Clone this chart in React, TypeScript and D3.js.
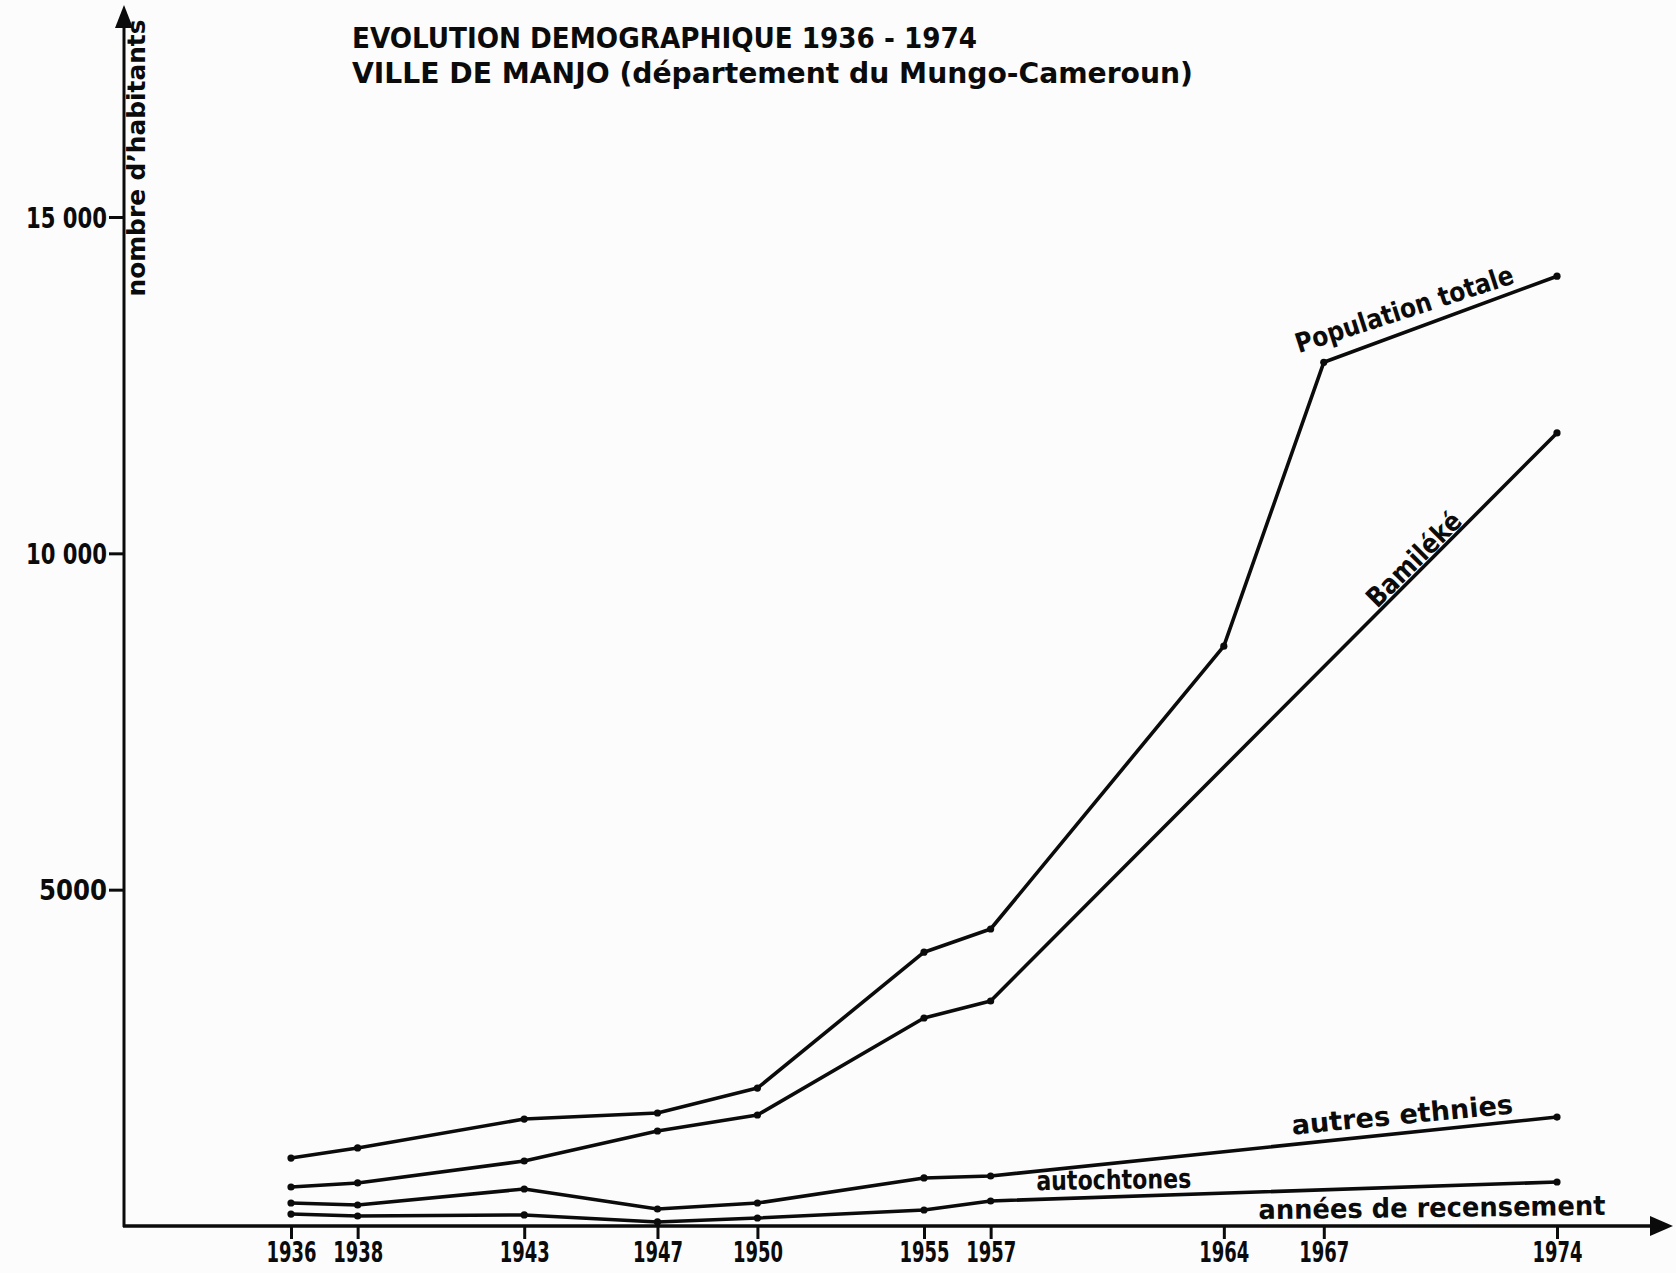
import * as d3 from 'd3';
import { useEffect, useRef } from 'react';

// census years on the x axis
const years = [1936, 1938, 1943, 1947, 1950, 1955, 1957, 1964, 1967, 1974];
const yearLabels = ['1936', '1938', '1943', '1947', '1950', '1955', '1957', '1964', '1967', '1974'];

// inhabitants per census (null = no point drawn)
const populationTotale = [1010, 1160, 1590, 1680, 2050, 4070, 4415, 8620, 12840, 14120];
const bamileke = [580, 640, 966, 1412, 1650, 3092, 3345, null, null, 11790];
const autresEthnies = [342, 312, 550, 253, 342, 714, 743, null, null, 1620];
const autochtones = [178, 149, 164, 60, 119, 238, 372, null, null, 654];

const yTickValues = [5000, 10000, 15000];
const yTickLabels = ['5000', '10 000', '15 000'];

// series label anchors, in data units
const seriesLabels = [
  { text: 'Population totale', year: 1969.5, value: 13498, angle: -18, len: 228 },
  { text: 'Bamiléké', year: 1969.9, value: 9812, angle: -45, len: 122 },
  { text: 'autres ethnies', year: 1969.38, value: 1516, angle: -5.5, len: 222 },
  { text: 'autochtones', year: 1960.7, value: 550, angle: -1, len: 155 },
  { text: 'années de recensement', year: 1970.25, value: 134, angle: -0.7, len: 347 },
];

const App = () => {
  const svgRef = useRef<any>();
  const width = 1676;
  const height = 1273;
  const axisX = 124;
  const ink = '#0b0b0b';

  useEffect(() => {
    const svg = d3.select(svgRef.current);
    svg.selectAll('*').remove();

    svg.append('rect').attr('width', width).attr('height', height).attr('fill', '#fcfcfc');

    const x = d3.scaleLinear().domain([1936, 1974]).range([291, 1557]);
    const y = d3.scaleLinear().domain([0, 15000]).range([1226, 217]);
    const y0 = y(0);

    // axes lines + arrows
    svg.append('line')
      .attr('x1', axisX).attr('x2', axisX).attr('y1', y0 + 1).attr('y2', 20)
      .attr('stroke', ink).attr('stroke-width', 3);
    svg.append('path')
      .attr('d', `M${axisX},5 L${axisX - 9},28 L${axisX + 9},28 Z`)
      .attr('fill', ink);
    svg.append('line')
      .attr('x1', axisX - 1).attr('x2', 1660).attr('y1', y0).attr('y2', y0)
      .attr('stroke', ink).attr('stroke-width', 3.5);
    svg.append('path')
      .attr('d', `M1673,${y0} L1650,${y0 - 10} L1650,${y0 + 10} Z`)
      .attr('fill', ink);

    // y ticks
    const yAxis = d3.axisLeft(y)
      .tickValues(yTickValues)
      .tickSize(15)
      .tickPadding(2)
      .tickFormat((d, i) => yTickLabels[i]);
    const gy = svg.append('g').attr('transform', `translate(${axisX},0)`).call(yAxis);
    gy.select('.domain').remove();
    gy.selectAll('line').attr('stroke', ink).attr('stroke-width', 3);
    gy.selectAll('text')
      .attr('fill', ink)
      .attr('font-family', '"DejaVu Sans Condensed", "DejaVu Sans", sans-serif')
      .attr('font-weight', 'bold')
      .attr('font-size', 28)
      .attr('dy', '0.36em')
      .attr('textLength', (d: any, i) => (yTickLabels[i].length === 4 ? 68 : 81))
      .attr('lengthAdjust', 'spacingAndGlyphs');

    // x ticks
    const xAxis = d3.axisBottom(x)
      .tickValues(years)
      .tickSize(13)
      .tickPadding(2)
      .tickFormat((d, i) => yearLabels[i]);
    const gx = svg.append('g').attr('transform', `translate(0,${y0})`).call(xAxis);
    gx.select('.domain').remove();
    gx.selectAll('line').attr('stroke', ink).attr('stroke-width', 3);
    gx.selectAll('text')
      .attr('fill', ink)
      .attr('font-family', '"DejaVu Sans Condensed", "DejaVu Sans", sans-serif')
      .attr('font-weight', 'bold')
      .attr('font-size', 29)
      .attr('dy', '0.71em')
      .attr('textLength', 50)
      .attr('lengthAdjust', 'spacingAndGlyphs');

    // series
    const line = d3.line<[number, number]>()
      .x((d) => x(d[0]))
      .y((d) => y(d[1]));
    [populationTotale, bamileke, autresEthnies, autochtones].forEach((vals) => {
      const pts = years
        .map((yr, i) => [yr, vals[i]] as [number, number | null])
        .filter((p) => p[1] !== null) as [number, number][];
      svg.append('path')
        .attr('d', line(pts))
        .attr('fill', 'none')
        .attr('stroke', ink)
        .attr('stroke-width', 3.6)
        .attr('stroke-linejoin', 'round')
        .attr('stroke-linecap', 'round');
      svg.append('g')
        .selectAll('circle')
        .data(pts)
        .enter()
        .append('circle')
        .attr('cx', (d) => x(d[0]))
        .attr('cy', (d) => y(d[1]))
        .attr('r', 3.6)
        .attr('fill', ink);
    });

    // series labels
    seriesLabels.forEach((l) => {
      svg.append('text')
        .attr('transform', `translate(${x(l.year)},${y(l.value)}) rotate(${l.angle})`)
        .attr('text-anchor', 'middle')
        .attr('font-family', '"DejaVu Sans Condensed", "DejaVu Sans", sans-serif')
        .attr('font-weight', 'bold')
        .attr('font-size', 27)
        .attr('fill', ink)
        .attr('textLength', l.len)
        .attr('lengthAdjust', 'spacingAndGlyphs')
        .text(l.text);
    });

    // y axis title
    svg.append('text')
      .attr('transform', `translate(145,158) rotate(-90)`)
      .attr('text-anchor', 'middle')
      .attr('font-family', '"DejaVu Sans", sans-serif')
      .attr('font-weight', 'bold')
      .attr('font-size', 25)
      .attr('fill', ink)
      .attr('textLength', 277)
      .attr('lengthAdjust', 'spacingAndGlyphs')
      .text('nombre d’habitants');

    // title
    const title = svg.append('g')
      .attr('font-family', '"DejaVu Sans Condensed", "DejaVu Sans", sans-serif')
      .attr('font-weight', 'bold')
      .attr('font-size', 28)
      .attr('fill', ink);
    title.append('text')
      .attr('x', 352).attr('y', 48)
      .attr('textLength', 625)
      .attr('lengthAdjust', 'spacingAndGlyphs')
      .text('EVOLUTION DEMOGRAPHIQUE 1936 - 1974');
    title.append('text')
      .attr('x', 352).attr('y', 83)
      .attr('textLength', 841)
      .attr('lengthAdjust', 'spacingAndGlyphs')
      .text('VILLE DE MANJO (département du Mungo-Cameroun)');
  }, []);

  return (
    <svg
      ref={svgRef}
      width={width}
      height={height}
      style={{ position: 'absolute', left: 0, top: 0, display: 'block' }}
    />
  );
};

export default App;
